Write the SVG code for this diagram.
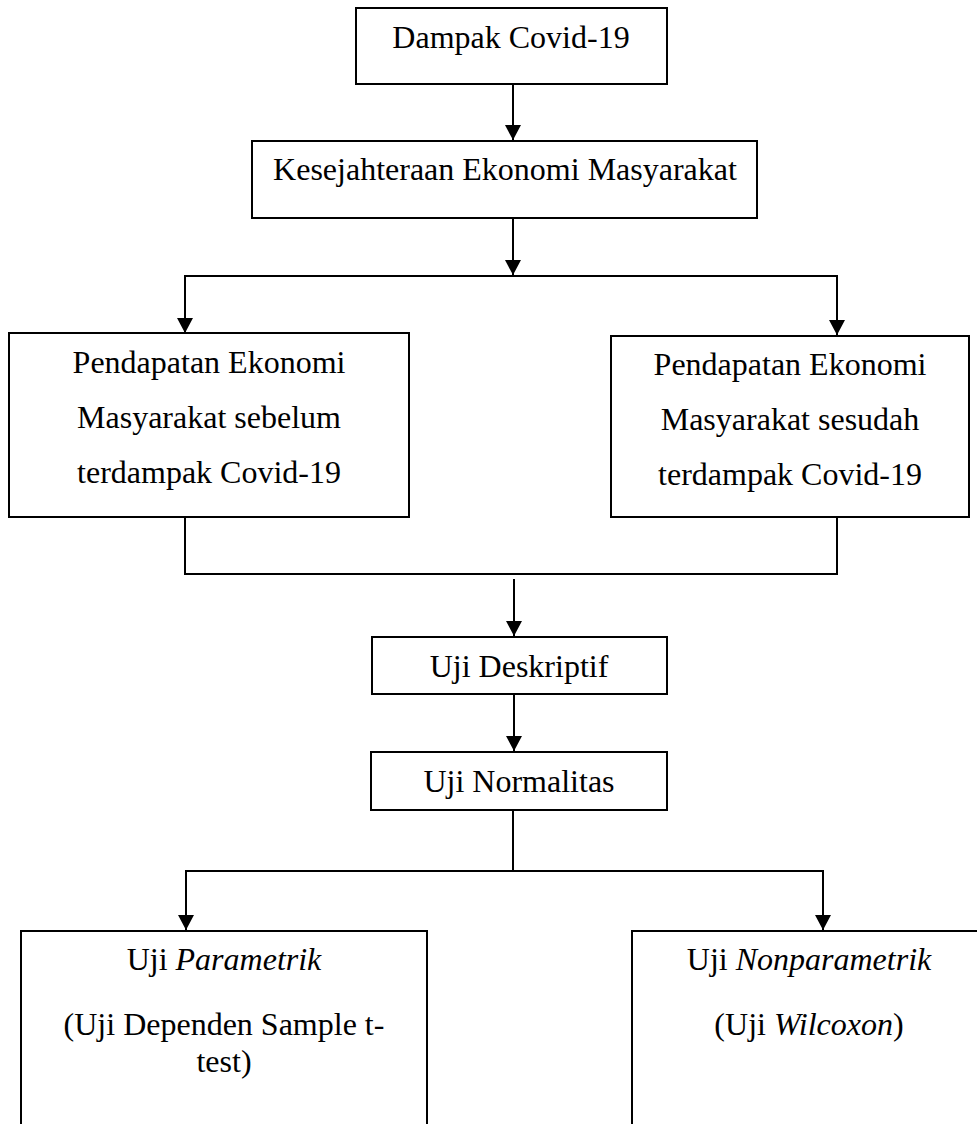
<svg xmlns="http://www.w3.org/2000/svg" width="977" height="1124" viewBox="0 0 977 1124">
<style>
.box{fill:#fff;stroke:#000;stroke-width:2}
.ln{fill:none;stroke:#000;stroke-width:2}
.t{font-family:"Liberation Serif","Times New Roman",serif;font-size:32px;fill:#000;text-anchor:middle}
.i{font-style:italic}
</style>
<defs>
<marker id="ah" markerUnits="userSpaceOnUse" markerWidth="16" markerHeight="16" viewBox="0 0 16 16" refX="8" refY="15" orient="auto-start-reverse">
<path d="M0,0 L16,0 L8,15 Z" fill="#000" transform="rotate(0)"/>
</marker>
<marker id="arr" markerUnits="userSpaceOnUse" markerWidth="16" markerHeight="16" viewBox="0 0 16 16" refX="15" refY="8" orient="auto">
<path d="M0,0 L15,8 L0,16 Z" fill="#000"/>
</marker>
</defs>
<g id="connectors">
<line class="ln" x1="513" y1="84" x2="513" y2="140" marker-end="url(#arr)"/>
<line class="ln" x1="513" y1="218" x2="513" y2="275" marker-end="url(#arr)"/>
<line class="ln" x1="184" y1="276" x2="838" y2="276"/>
<line class="ln" x1="185" y1="276" x2="185" y2="333" marker-end="url(#arr)"/>
<line class="ln" x1="837" y1="276" x2="837" y2="335" marker-end="url(#arr)"/>
<line class="ln" x1="185" y1="517" x2="185" y2="575"/>
<line class="ln" x1="837" y1="517" x2="837" y2="575"/>
<line class="ln" x1="184" y1="574" x2="838" y2="574"/>
<line class="ln" x1="514" y1="579" x2="514" y2="636" marker-end="url(#arr)"/>
<line class="ln" x1="514" y1="694" x2="514" y2="751" marker-end="url(#arr)"/>
<line class="ln" x1="513" y1="810" x2="513" y2="871"/>
<line class="ln" x1="185" y1="871" x2="824" y2="871"/>
<line class="ln" x1="186" y1="871" x2="186" y2="930" marker-end="url(#arr)"/>
<line class="ln" x1="823" y1="871" x2="823" y2="930" marker-end="url(#arr)"/>
</g>
<g id="dampak">
<rect class="box" x="356" y="8" width="311" height="76"/>
<text class="t" x="511" y="48">Dampak Covid-19</text>
</g>
<g id="kesejahteraan">
<rect class="box" x="252" y="141" width="505" height="77"/>
<text class="t" x="505" y="180">Kesejahteraan Ekonomi Masyarakat</text>
</g>
<g id="sebelum">
<rect class="box" x="9" y="333" width="400" height="184"/>
<text class="t" x="209" y="373">Pendapatan Ekonomi</text>
<text class="t" x="209" y="428">Masyarakat sebelum</text>
<text class="t" x="209" y="483">terdampak Covid-19</text>
</g>
<g id="sesudah">
<rect class="box" x="611" y="336" width="358" height="181"/>
<text class="t" x="790" y="375">Pendapatan Ekonomi</text>
<text class="t" x="790" y="430">Masyarakat sesudah</text>
<text class="t" x="790" y="485">terdampak Covid-19</text>
</g>
<g id="deskriptif">
<rect class="box" x="372" y="637" width="295" height="57"/>
<text class="t" x="519" y="677">Uji Deskriptif</text>
</g>
<g id="normalitas">
<rect class="box" x="371" y="752" width="296" height="58"/>
<text class="t" x="519" y="792">Uji Normalitas</text>
</g>
<g id="parametrik">
<rect class="box" x="21" y="931" width="406" height="210"/>
<text class="t" x="224" y="970">Uji <tspan class="i">Parametrik</tspan></text>
<text class="t" x="224" y="1035">(Uji Dependen Sample t-</text>
<text class="t" x="224" y="1072">test)</text>
</g>
<g id="nonparametrik">
<rect class="box" x="632" y="931" width="360" height="210"/>
<text class="t" x="809" y="970">Uji <tspan class="i">Nonparametrik</tspan></text>
<text class="t" x="809" y="1035">(Uji <tspan class="i">Wilcoxon</tspan>)</text>
</g>
</svg>
